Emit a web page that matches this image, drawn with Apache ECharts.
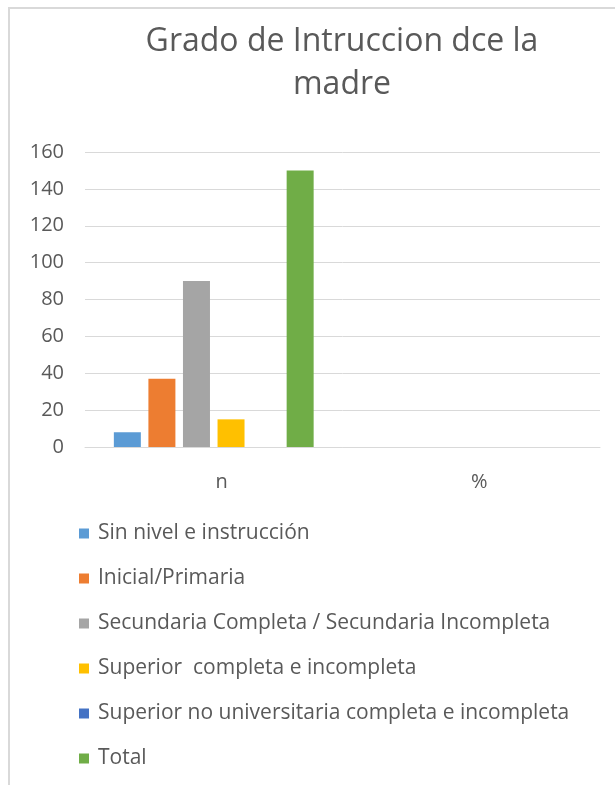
<!DOCTYPE html>
<html>
<head>
<meta charset="utf-8">
<script src="https://cdn.jsdelivr.net/npm/echarts@6/dist/echarts.min.js"></script>
<style>
  html, body { margin: 0; padding: 0; background: #fff; }
  #chart { width: 615px; height: 785px; }
</style>
</head>
<body>
<div id="chart"></div>
<script>
// Categories on the x axis
const categories = ['n', '%'];

// One value per category for each education level
const sinNivel = [8, null];
const inicialPrimaria = [37, null];
const secundaria = [90, null];
const superior = [15, null];
const superiorNoUniv = [0, null];
const total = [150, null];

const seriesNames = [
  'Sin nivel e instrucción',
  'Inicial/Primaria',
  'Secundaria Completa / Secundaria Incompleta',
  'Superior  completa e incompleta',
  'Superior no universitaria completa e incompleta',
  'Total'
];
const seriesValues = [sinNivel, inicialPrimaria, secundaria, superior, superiorNoUniv, total];
const colors = ['#5B9BD5', '#ED7D31', '#A5A5A5', '#FFC000', '#4472C4', '#70AD47'];

const FONT = '"Open Sans", "Noto Sans", sans-serif';
const TEXT = '#595959';

const chart = echarts.init(document.getElementById('chart'), null, { renderer: 'canvas' });

chart.setOption({
  animation: false,
  color: colors,
  title: {
    text: 'Grado de Intruccion dce la\nmadre',
    left: 342,
    top: 20,
    textAlign: 'center',
    padding: 0,
    textStyle: {
      fontFamily: FONT,
      fontWeight: 'normal',
      fontSize: 32,
      lineHeight: 43,
      color: TEXT
    }
  },
  legend: {
    orient: 'vertical',
    left: 79,
    top: 523,
    padding: 0,
    itemWidth: 10,
    itemHeight: 10,
    itemGap: 24,
    icon: 'rect',
    textStyle: {
      fontFamily: FONT,
      fontSize: 21,
      lineHeight: 20,
      color: TEXT,
      padding: [0, 0, 0, 4]
    },
    data: seriesNames
  },
  grid: {
    left: 85,
    right: 15,
    top: 152,
    bottom: 338,
    containLabel: false
  },
  xAxis: {
    type: 'category',
    data: categories,
    axisLine: { show: true, lineStyle: { color: '#D9D9D9', width: 1 } },
    axisTick: { show: false },
    axisLabel: {
      fontFamily: FONT,
      fontSize: 20,
      color: TEXT,
      margin: 25,
      padding: [0, 0, 0, 16]
    }
  },
  yAxis: {
    type: 'value',
    min: 0,
    max: 160,
    interval: 20,
    axisLine: { show: false },
    axisTick: { show: false },
    splitLine: { lineStyle: { color: '#D9D9D9', width: 1 } },
    axisLabel: {
      fontFamily: FONT,
      fontSize: 20,
      color: TEXT,
      margin: 21
    }
  },
  series: seriesNames.map((name, i) => ({
    name: name,
    type: 'bar',
    data: seriesValues[i],
    barWidth: 27,
    barGap: '28%',
    itemStyle: { color: colors[i] }
  })),
  graphic: [
    {
      type: 'line',
      shape: { x1: 9, y1: 8, x2: 615, y2: 8 },
      style: { stroke: '#D9D9D9', lineWidth: 2 },
      silent: true
    },
    {
      type: 'line',
      shape: { x1: 9, y1: 7, x2: 9, y2: 785 },
      style: { stroke: '#D9D9D9', lineWidth: 2 },
      silent: true
    }
  ]
});
</script>
</body>
</html>
